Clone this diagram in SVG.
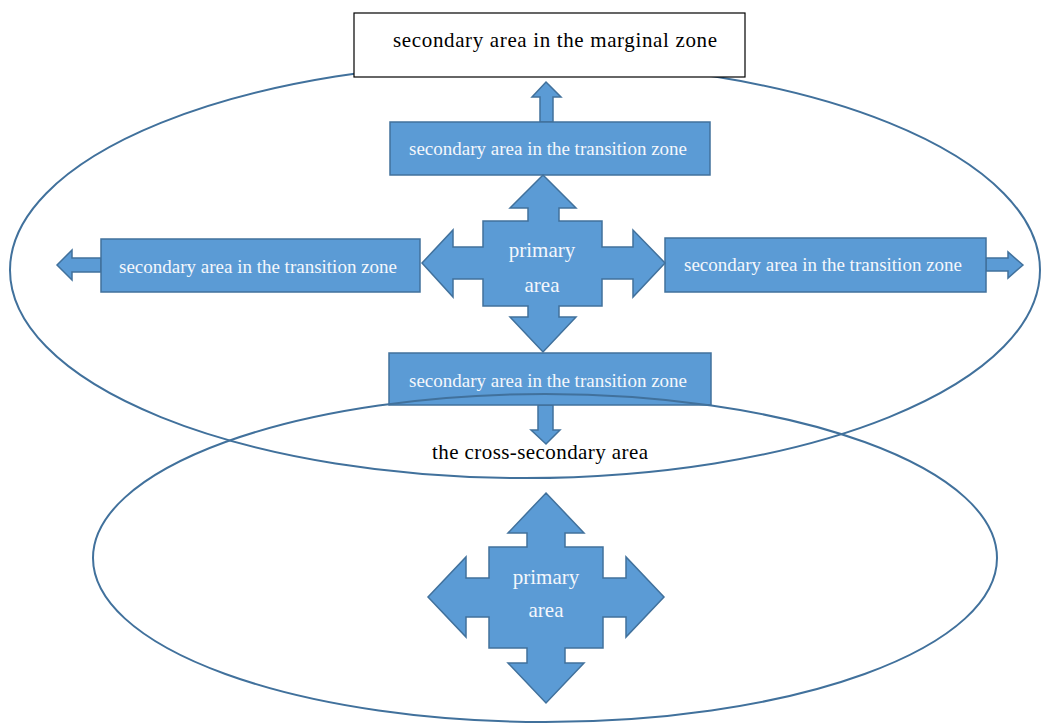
<svg xmlns="http://www.w3.org/2000/svg" width="1044" height="724" viewBox="0 0 1044 724">
<style>
.zone{fill:none;stroke:#41719C;stroke-width:2}
.blue{fill:#5B9BD5;stroke:#41719C;stroke-width:1.5}
.wt{font-family:"Liberation Serif",serif;fill:#F4F7FC;text-anchor:middle}
.bt{font-family:"Liberation Serif",serif;fill:#000;text-anchor:middle;font-size:21px}
.sec{font-size:19px}
.pri{font-size:21px}
</style>
<rect width="1044" height="724" fill="#fff"/>
<ellipse id="zone-top" class="zone" cx="525" cy="270" rx="515" ry="208"/>
<g id="marginal">
<rect x="354" y="13" width="391" height="64" fill="#fff" stroke="#000" stroke-width="1.2"/>
<text class="bt" x="555" y="47" font-size="22" textLength="324">secondary area in the marginal zone</text>
</g>
<g id="connectors">
<polygon class="blue" points="546,82 561,97 553,97 553,122 540,122 540,97 532,97"/>
<polygon class="blue" points="57,265 72,250 72,258 101,258 101,272 72,272 72,280"/>
<polygon class="blue" points="1023,265 1008,252 1008,258 986,258 986,271 1008,271 1008,278"/>
<polygon class="blue" points="546,444 531,430 538,430 538,405 553,405 553,430 560,430"/>
</g>
<g id="trans-top">
<rect class="blue" x="390" y="122" width="320" height="53"/>
<text class="wt sec" x="548" y="155">secondary area in the transition zone</text>
</g>
<g id="trans-left">
<rect class="blue" x="101" y="239" width="319" height="53"/>
<text class="wt sec" x="258" y="273">secondary area in the transition zone</text>
</g>
<g id="trans-right">
<rect class="blue" x="665" y="238" width="321" height="54"/>
<text class="wt sec" x="823" y="271">secondary area in the transition zone</text>
</g>
<g id="primary-1">
<polygon class="blue" points="543,175 576,208 559,208 559,221 602,221 602,247 633,247 633,230 665,263 633,297 633,279 602,279 602,306 559,306 559,317 576,317 543,352 510,317 528,317 528,306 483,306 483,279 453,279 453,297 422,263 453,230 453,247 483,247 483,221 528,221 528,208 510,208"/>
<text class="wt pri" x="542" y="257">primary</text>
<text class="wt pri" x="542" y="292">area</text>
</g>
<g id="trans-bottom">
<rect class="blue" x="389" y="353" width="322" height="52"/>
<text class="wt sec" x="548" y="387">secondary area in the transition zone</text>
</g>
<g id="cross-secondary">
<text class="bt" x="540" y="459" textLength="216">the cross-secondary area</text>
</g>
<g id="primary-2">
<polygon class="blue" points="546,493 584,533 565,533 565,547 603,547 603,578 626,578 626,557 664,597 626,637 626,617 603,617 603,648 565,648 565,663 584,663 546,703 508,663 527,663 527,648 489,648 489,617 466,617 466,637 428,597 466,557 466,578 489,578 489,547 527,547 527,533 508,533"/>
<text class="wt pri" x="546" y="584">primary</text>
<text class="wt pri" x="546" y="617">area</text>
</g>
<ellipse id="zone-bottom" class="zone" cx="545" cy="558" rx="452" ry="164"/>
</svg>
